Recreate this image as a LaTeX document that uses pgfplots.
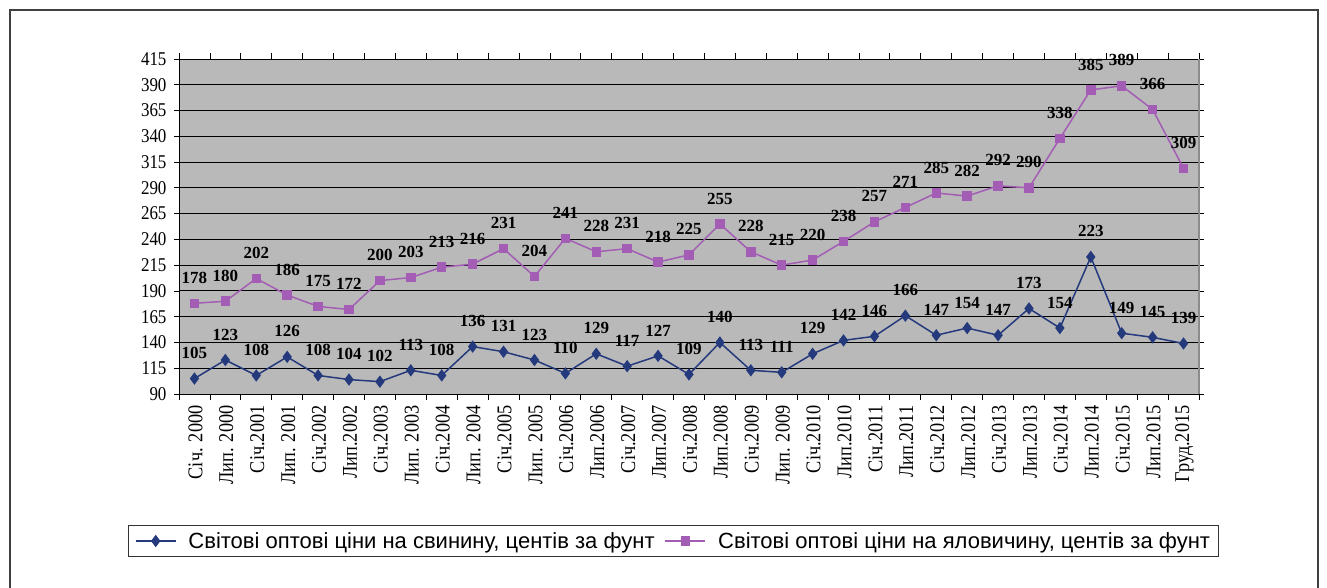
\documentclass[border=0pt]{standalone}
\usepackage{fontspec}
\setmainfont{Liberation Serif}
\newfontfamily\legfont{Liberation Sans}
\newfontfamily\tickfont[FakeStretch=0.87]{Liberation Serif}
\usepackage{pgfplots}
\pgfplotsset{compat=1.18}
\definecolor{pork}{HTML}{243A7C}
\definecolor{beef}{HTML}{A35DB4}
\definecolor{plotbg}{HTML}{B9B9B9}
\begin{document}
\begin{tikzpicture}
\begin{axis}[
  name=ax, at={(0,0)}, anchor=south west,
  scale only axis, width=1020pt, height=335pt,
  xmin=-0.5, xmax=32.5, ymin=90, ymax=415,
  ytick={90,115,...,415},
  xtick={0,...,32},
  xticklabels={Січ. 2000, Лип. 2000, Січ.2001, Лип. 2001, Січ.2002, Лип.2002, Січ.2003, Лип. 2003, Січ.2004, Лип. 2004, Січ.2005, Лип. 2005, Січ.2006, Лип.2006, Січ.2007, Лип.2007, Січ.2008, Лип.2008, Січ.2009, Лип. 2009, Січ.2010, Лип.2010, Січ.2011, Лип.2011, Січ.2012, Лип.2012, Січ.2013, Лип.2013, Січ.2014, Лип.2014, Січ.2015, Лип.2015, Груд.2015},
  minor xtick={-0.5,0.5,...,32.5},
  major x tick style={draw=none},
  tick align=outside, major tick length=5pt, minor tick length=6pt,
  every tick/.style={black, line width=0.8pt},
  ymajorgrids, grid style={black, line width=0.9pt},
  axis background/.style={fill=plotbg},
  axis line style={draw=none},
  /pgf/number format/assume math mode=true,
  yticklabel style={font=\tickfont\fontsize{19.5}{19.5}\selectfont, xshift=-4pt},
  xticklabel style={font=\tickfont\fontsize{21}{21}\selectfont, rotate=90, anchor=east, xshift=-3pt, yshift=-1pt},
  clip=false,
  nodes near coords,
  every node near coord/.style={font=\bfseries\fontsize{17}{17}\selectfont, black, anchor=south, inner sep=0pt, yshift=19pt},
  legend style={at={(0.4848,-0.4388)}, anchor=center, legend columns=2, draw=black!80, line width=1pt, fill=white,
    font=\legfont\fontsize{22}{24}\selectfont, inner xsep=6pt, inner ysep=5pt,
    /tikz/every even column/.append style={column sep=8pt},
    /tikz/every odd column/.append style={column sep=10pt}},
  legend image code/.code={\draw[mark repeat=2,mark phase=2] plot coordinates {(0pt,0pt) (20pt,0pt) (40pt,0pt)};},
]
\addplot[color=pork, line width=1.5pt, mark=diamond*, mark size=5pt, mark options={solid, fill=pork}] coordinates {
(0,105) (1,123) (2,108) (3,126) (4,108) (5,104) (6,102) (7,113) (8,108) (9,136) (10,131)
(11,123) (12,110) (13,129) (14,117) (15,127) (16,109) (17,140) (18,113) (19,111) (20,129)
(21,142) (22,146) (23,166) (24,147) (25,154) (26,147) (27,173) (28,154) (29,223) (30,149)
(31,145) (32,139)};
\addlegendentry{Світові оптові ціни на свинину, центів за фунт}
\addplot[color=beef, line width=1.5pt, mark=square*, mark size=4pt, mark options={solid, fill=beef}] coordinates {
(0,178) (1,180) (2,202) (3,186) (4,175) (5,172) (6,200) (7,203) (8,213) (9,216) (10,231)
(11,204) (12,241) (13,228) (14,231) (15,218) (16,225) (17,255) (18,228) (19,215) (20,220)
(21,238) (22,257) (23,271) (24,285) (25,282) (26,292) (27,290) (28,338) (29,385) (30,389)
(31,366) (32,309)};
\addlegendentry{Світові оптові ціни на яловичину, центів за фунт}
\draw[black, line width=1pt] (rel axis cs:0,0) -- (rel axis cs:0,1);
\draw[black, line width=1pt] (rel axis cs:0,0) -- (rel axis cs:1,0);
\draw[black!45, line width=1.5pt] (rel axis cs:1,0) -- (rel axis cs:1,1);
\end{axis}
\pgfresetboundingbox
\useasboundingbox (-179pt,-193pt) rectangle (1148pt,394pt);
\draw[line width=1.5pt, color=black!75] (-169pt,-200pt) -- (-169pt,384pt) -- (1139pt,384pt) -- (1139pt,-200pt);
\end{tikzpicture}
\end{document}
